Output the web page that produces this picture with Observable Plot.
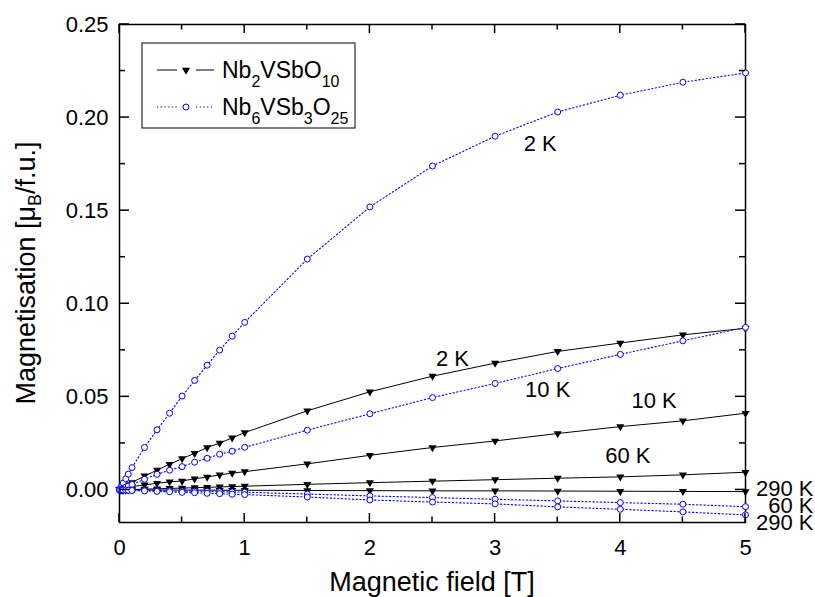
<!DOCTYPE html>
<html>
<head>
<meta charset="utf-8">
<script src="https://cdn.jsdelivr.net/npm/d3@7"></script>
<script src="https://cdn.jsdelivr.net/npm/@observablehq/plot@0.6"></script>
<style>
  html, body { margin: 0; padding: 0; background: #fff; }
  #chart { width: 815px; height: 597px; }
</style>
</head>
<body>
<div id="chart"></div>
<script>
// Magnetic field values (T)
const fields = [0, 0.01, 0.02, 0.03, 0.05, 0.07, 0.1, 0.2, 0.3, 0.4, 0.5, 0.6, 0.7, 0.8, 0.9, 1.0, 1.5, 2, 2.5, 3, 3.5, 4, 4.5, 5];

// Nb2VSbO10 (black, triangles)
const nb2_2K   = [0, 0.0004, 0.0008, 0.0012, 0.002, 0.0028, 0.004, 0.0075, 0.0106, 0.0138, 0.0168, 0.0197, 0.0228, 0.0251, 0.028, 0.0308, 0.0425, 0.0527, 0.0611, 0.0681, 0.0744, 0.0789, 0.0833, 0.0868];
const nb2_10K  = [0, 0.0002, 0.0004, 0.0006, 0.001, 0.0013, 0.0018, 0.0027, 0.0036, 0.0043, 0.0048, 0.006, 0.0069, 0.0081, 0.009, 0.0098, 0.0140, 0.0186, 0.0228, 0.0263, 0.0303, 0.034, 0.0371, 0.0412];
const nb2_60K  = [0, 0, 0, 0.0001, 0.0001, 0.0001, 0.0002, 0.0004, 0.0006, 0.0008, 0.001, 0.0012, 0.0014, 0.0016, 0.0018, 0.002, 0.003, 0.0039, 0.0047, 0.0055, 0.0063, 0.007, 0.0081, 0.0095];
const nb2_290K = [0, 0, 0, 0, 0, 0, 0, 0, -0.0001, -0.0001, -0.0001, -0.0001, -0.0001, -0.0002, -0.0002, -0.0002, -0.0003, -0.0004, -0.0005, -0.0005, -0.0006, -0.0007, -0.0008, -0.0009];

// Nb6VSb3O25 (blue, circles)
const nb6_2K   = [0, 0.0013, 0.0025, 0.0037, 0.006, 0.0085, 0.012, 0.0228, 0.0323, 0.0412, 0.0504, 0.0588, 0.067, 0.0751, 0.0826, 0.090, 0.124, 0.152, 0.174, 0.190, 0.203, 0.212, 0.219, 0.224];
const nb6_10K  = [0, 0.0003, 0.0006, 0.0009, 0.0015, 0.002, 0.0029, 0.0057, 0.0084, 0.0106, 0.0125, 0.0149, 0.017, 0.0192, 0.0208, 0.0229, 0.0321, 0.0409, 0.0496, 0.0572, 0.0652, 0.0728, 0.0801, 0.0873];
const nb6_60K  = [0, 0, 0, 0, -0.0001, -0.0001, -0.0001, -0.0002, -0.0004, -0.0005, -0.0006, -0.0007, -0.0008, -0.0010, -0.0011, -0.0012, -0.0022, -0.0032, -0.0041, -0.005, -0.0059, -0.0068, -0.0077, -0.009];
const nb6_290K = [0, 0, -0.0001, -0.0001, -0.0001, -0.0002, -0.0003, -0.0005, -0.0008, -0.001, -0.0013, -0.0015, -0.0018, -0.002, -0.0023, -0.0025, -0.0038, -0.0054, -0.0065, -0.0075, -0.0091, -0.0104, -0.0118, -0.0134];

const xMajor = [0, 1, 2, 3, 4, 5];
const xMinor = [0.5, 1.5, 2.5, 3.5, 4.5];
const yMajor = [0, 0.05, 0.10, 0.15, 0.20, 0.25];
const yMinor = [0.025, 0.075, 0.125, 0.175, 0.225];

// Curve annotations (placed in data coordinates)
const curveLabels = [
  {text: "2 K",  field: 3.36, m: 0.186},
  {text: "2 K",  field: 2.66, m: 0.0704},
  {text: "10 K", field: 3.42, m: 0.0536},
  {text: "10 K", field: 4.27, m: 0.0478},
  {text: "60 K", field: 4.06, m: 0.0183}
];
const edgeLabels = [
  {text: "290 K", m: 0.0005},
  {text: "60 K",  m: -0.0088},
  {text: "290 K", m: -0.0177}
];

const BLUE = "#0000ff";
const FONT = "'Liberation Sans', Arial, Helvetica, sans-serif";

const toRows = (vals, compound, temp) => fields.map((f, i) => ({field: f, m: vals[i], compound, temp}));
const blackRows = [
  ...toRows(nb2_2K, "Nb2VSbO10", "2 K"),
  ...toRows(nb2_10K, "Nb2VSbO10", "10 K"),
  ...toRows(nb2_60K, "Nb2VSbO10", "60 K"),
  ...toRows(nb2_290K, "Nb2VSbO10", "290 K")
];
const blueRows = [
  ...toRows(nb6_2K, "Nb6VSb3O25", "2 K"),
  ...toRows(nb6_10K, "Nb6VSb3O25", "10 K"),
  ...toRows(nb6_60K, "Nb6VSb3O25", "60 K"),
  ...toRows(nb6_290K, "Nb6VSb3O25", "290 K")
];

const chart = Plot.plot({
  width: 815,
  height: 597,
  marginLeft: 119,
  marginRight: 70,
  marginTop: 24,
  marginBottom: 75,
  style: {fontFamily: FONT, fontSize: "22px", color: "black", background: "white", overflow: "visible"},
  x: {domain: [0, 5]},
  y: {domain: [-0.0175, 0.25]},
  marks: [
    // tick labels
    Plot.axisX({ticks: xMajor, tickSize: 0, tickPadding: 17, tickFormat: d => String(d), label: null, fontSize: 22}),
    Plot.axisY({ticks: yMajor, tickSize: 0, tickPadding: 11, tickFormat: d3.format(".2f"), label: null, fontSize: 22}),
    Plot.frame({stroke: "black", strokeWidth: 1.5}),
    // Nb2VSbO10
    Plot.line(blackRows, {x: "field", y: "m", z: "temp", stroke: "black", strokeWidth: 1}),
    Plot.dot(blackRows, {x: "field", y: "m", symbol: "triangle", rotate: 180, fill: "black", r: 3}),
    // Nb6VSb3O25
    Plot.line(blueRows, {x: "field", y: "m", z: "temp", stroke: BLUE, strokeWidth: 1.1, strokeDasharray: "1.3,2.4"}),
    Plot.dot(blueRows, {x: "field", y: "m", symbol: "circle", stroke: BLUE, fill: "white", strokeWidth: 1, r: 3}),
    // annotations
    Plot.text(curveLabels, {x: "field", y: "m", text: "text", fontSize: 22, fill: "black"}),
    Plot.text(edgeLabels, {x: () => 5, y: "m", text: "text", fontSize: 22, fill: "black", textAnchor: "end", dx: 68, clip: false})
  ]
});

document.getElementById("chart").appendChild(chart);

const svg = d3.select(chart);
const xs = chart.scale("x"), ys = chart.scale("y");
const X = v => xs.apply(v), Y = v => ys.apply(v);
const [x0, x1] = xs.domain.map(X);
const [y0, y1] = ys.domain.map(Y); // y0 bottom, y1 top

// inward ticks on all four sides, from the plot's own scales
const tg = svg.append("g").attr("stroke", "black").attr("stroke-width", 1.5);
[[xMajor, 9], [xMinor, 5.5]].forEach(([arr, len]) => arr.forEach(v => {
  tg.append("line").attr("x1", X(v)).attr("x2", X(v)).attr("y1", y0).attr("y2", y0 - len);
  tg.append("line").attr("x1", X(v)).attr("x2", X(v)).attr("y1", y1).attr("y2", y1 + len);
}));
[[yMajor, 10], [yMinor, 6]].forEach(([arr, len]) => arr.forEach(v => {
  tg.append("line").attr("y1", Y(v)).attr("y2", Y(v)).attr("x1", x0).attr("x2", x0 + len);
  tg.append("line").attr("y1", Y(v)).attr("y2", Y(v)).attr("x1", x1).attr("x2", x1 - len);
}));

// Axis titles and legend with subscripts
const g = svg.append("g").attr("font-family", FONT).attr("fill", "black");

g.append("text")
  .attr("x", 432).attr("y", 591)
  .attr("text-anchor", "middle")
  .attr("font-size", 27)
  .text("Magnetic field [T]");

const yt = g.append("text")
  .attr("transform", "translate(35,273) rotate(-90)")
  .attr("text-anchor", "middle")
  .attr("font-size", 27);
yt.append("tspan").text("Magnetisation [\u03bc");
yt.append("tspan").attr("font-size", 18).attr("dy", 6).text("B");
yt.append("tspan").attr("dy", -6).text("/f.u.]");

// legend
const leg = g.append("g");
leg.append("rect").attr("x", 142).attr("y", 43).attr("width", 213).attr("height", 85)
  .attr("fill", "white").attr("stroke", "black").attr("stroke-width", 1);

const legendItems = [
  {parts: [["Nb", 0], ["2", 1], ["VSbO", 0], ["10", 1]], color: "black", dash: null, sym: "triangle", y: 70},
  {parts: [["Nb", 0], ["6", 1], ["VSb", 0], ["3", 1], ["O", 0], ["25", 1]], color: BLUE, dash: "1.3,2.4", sym: "circle", y: 107}
];
legendItems.forEach(it => {
  [[157, 177], [196, 214]].forEach(([a, b]) => {
    leg.append("line").attr("x1", a).attr("x2", b).attr("y1", it.y).attr("y2", it.y)
      .attr("stroke", it.color).attr("stroke-width", 1).attr("stroke-dasharray", it.dash);
  });
  if (it.sym === "triangle") {
    leg.append("path").attr("d", d3.symbol(d3.symbolTriangle, Math.PI * 3 * 3)())
      .attr("transform", `translate(186,${it.y}) rotate(180)`).attr("fill", "black");
  } else {
    leg.append("circle").attr("cx", 186).attr("cy", it.y).attr("r", 3)
      .attr("fill", "white").attr("stroke", BLUE).attr("stroke-width", 1);
  }
  const t = leg.append("text").attr("x", 222).attr("y", it.y + 8)
    .attr("text-anchor", "start").attr("font-size", 23);
  let prevSub = 0;
  it.parts.forEach(([s, sub]) => {
    const dy = sub === prevSub ? 0 : (sub ? 9 : -9);
    t.append("tspan").attr("dy", dy).attr("font-size", sub ? 16 : 23).text(s);
    prevSub = sub;
  });
});
</script>
</body>
</html>
